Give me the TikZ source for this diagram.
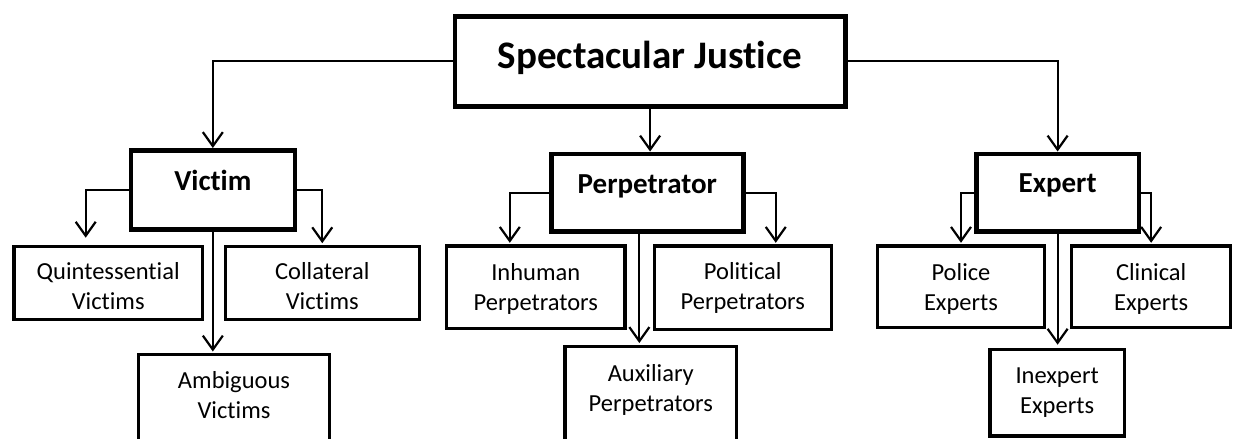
\documentclass[tikz,border=0pt]{standalone}
\usepackage{fontspec}
\setmainfont{Carlito}[Ligatures=NoCommon]
\usetikzlibrary{arrows.meta}

\begin{document}
\begin{tikzpicture}[x=1pt,y=-1pt,
  box/.style={draw, inner sep=0pt, anchor=north west, align=center},
  mainbox/.style={box, line width=4.7pt, font=\bfseries\fontsize{39}{46}\selectfont},
  catbox/.style={box, line width=4.7pt, font=\bfseries\fontsize{29}{35}\selectfont},
  leafbox/.style={box, line width=3.3pt, font=\fontsize{24.5}{30}\selectfont},
  conn/.style={line width=2.2pt, -{Straight Barb[length=14pt,width=20pt]}}]
\useasboundingbox (0,0) rectangle (1237,439);
\clip (0,0) rectangle (1237,439);

% top and the three categories
\node[mainbox, minimum width=390.5pt, text height=52pt, text depth=38pt] (title) at (452.5,14) {Spectacular Justice};
\node[catbox, minimum width=164pt, text height=40pt, text depth=39pt] (victim) at (128.5,148) {Victim};
\node[catbox, minimum width=192pt, text height=39.5pt, text depth=38pt] (perp) at (549,151.5) {Perpetrator};
\node[catbox, minimum width=162.5pt, text height=39pt, text depth=38.5pt] (expert) at (974,151.5) {Expert};

% sub types (\b = baseline of the second line, from the top)
\foreach \name/\x/\y/\w/\h/\b/\txt in {
  quint/12.3/244.7/188.5/72.8/63.6/{Quintessential\\Victims},
  coll/223.5/244.7/194.2/72.8/63.6/{Collateral\\Victims},
  amb/136.7/353/191.3/100/64.3/{Ambiguous\\Victims},
  inhum/445/244.3/178.3/82.4/65/{Inhuman\\Perpetrators},
  polit/652.5/244.3/177.2/83.7/64/{Political\\Perpetrators},
  aux/563.3/345/171.7/105/65/{Auxiliary\\Perpetrators},
  police/876/244.3/166.7/81.7/65/{Police\\Experts},
  clin/1070/244.3/159/81.7/65/{Clinical\\Experts},
  inexp/988.3/347.7/134.4/86.6/64/{Inexpert\\Experts}}{
  \pgfmathsetmacro{\dep}{\h-\b}
  \node[leafbox, minimum width=\w pt, text height=\b pt, text depth=\dep pt] (\name) at (\x,\y) {\txt};
}

\draw[conn] (title.west) -| (victim.north);
\draw[conn] (title.south) -- (title.south |- perp.north);
\draw[conn] (title.east) -| (expert.north);

\draw[conn, shorten >=7pt] (victim.west) -| ([xshift=-22.5pt]quint.north);
\draw[conn, shorten >=1.5pt] (victim.east) -| (coll.north);
\draw[conn, shorten >=1.5pt] (victim.south) -- (victim.south |- amb.north);

\draw[conn, shorten >=1.5pt] (perp.west) -| ([xshift=-26pt]inhum.north);
\draw[conn, shorten >=1.5pt] (perp.east) -| ([xshift=33pt]polit.north);
\draw[conn, shorten >=2pt] ([xshift=-8pt]perp.south) -- ([xshift=-8pt]perp.south |- aux.north);

\draw[conn, shorten >=1.5pt] (expert.west) -| (police.north);
\draw[conn, shorten >=1.5pt] (expert.east) -| (clin.north);
\draw[conn, shorten >=3pt] (expert.south) -- (expert.south |- inexp.north);
\end{tikzpicture}
\end{document}
